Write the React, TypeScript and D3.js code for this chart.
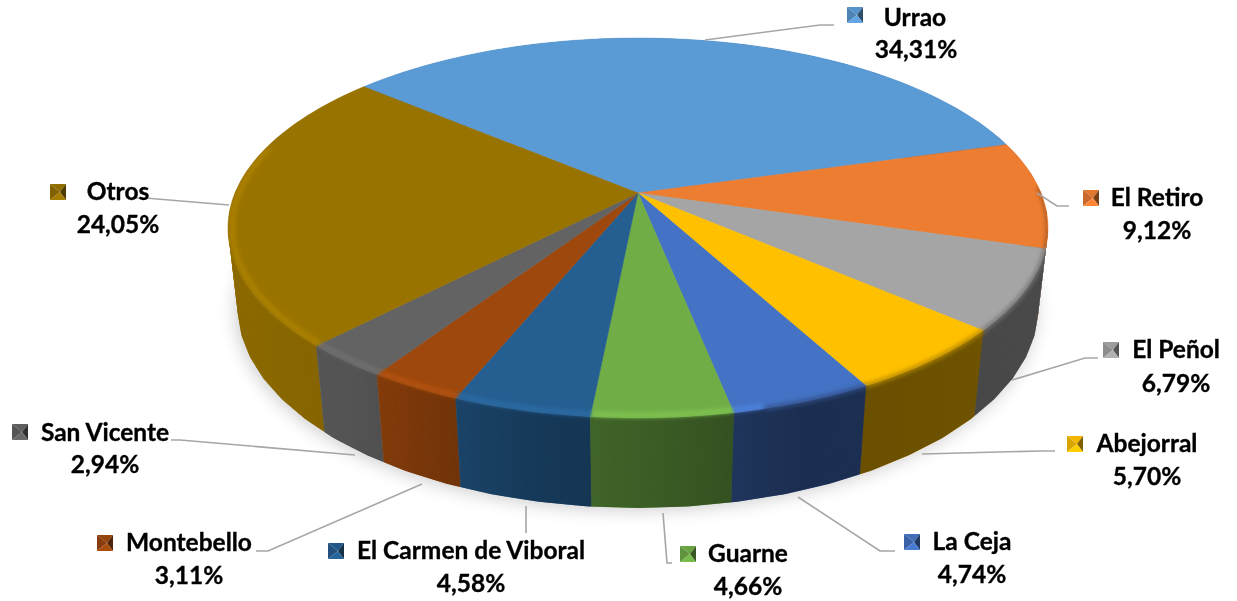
import React from 'react';
import * as d3 from 'd3';

const categories = ['Urrao', 'El Retiro', 'El Peñol', 'Abejorral', 'La Ceja', 'Guarne', 'El Carmen de Viboral', 'Montebello', 'San Vicente', 'Otros'];
const shares = [34.31, 9.12, 6.79, 5.70, 4.74, 4.66, 4.58, 3.11, 2.94, 24.05];
const colors = ['#5b9bd5', '#ed7d31', '#a5a5a5', '#ffc000', '#4472c4', '#70ad47', '#255e91', '#9e480e', '#636363', '#997300'];

// label layout, same order as categories
const keyPos = [[847, 7], [1083, 190], [1103, 342], [1067, 436], [904, 534], [680, 546], [328, 543], [97, 535], [12, 424], [50, 184]];
const nameCenter = [[915, 26], [1157, 206], [1176, 358], [1147, 452], [972, 550], [748, 562], [471, 559], [189, 551], [105, 441], [118, 200]];
const pctCenter = [[916, 58], [1157, 239], [1176, 392], [1147, 485], [972, 583], [748, 595], [471, 592], [189, 584], [105, 473], [118, 233]];
const leaders = [
    [[705, 40], [820, 25], [834, 25]],
    [[1037, 193], [1057, 206], [1069, 206]],
    [[1012, 380], [1085, 358], [1098, 358]],
    [[922, 454], [1040, 451], [1055, 451]],
    [[798, 497], [880, 551], [895, 551]],
    [[663, 513], [667, 563], [672, 563]],
    [[526, 506], [526, 533]],
    [[422, 484], [268, 551], [256, 551]],
    [[355, 455], [180, 440], [171, 440]],
    [[229, 205], [145, 198], [135, 198]],
];
const wallShade = [[0, 0.08], [0.156, 0.14], [0.235, 0.23], [0.37, 0.38], [0.53, 0.47], [0.7, 0.59], [0.85, 0.58], [1, 0.55]];

const width = 1237;
const height = 601;
const fontFamily = 'Lato, Carlito, Calibri, sans-serif';
const deg = Math.PI / 180;

// tilted disc: plane perspective, h = 0 is the top face and h = 1 the bottom one
const cx = 638;
const cy = 193;
const project = (angle: number, r = 1, h = 0): [number, number] => {
    const X = r * Math.sin(angle);
    const Z = r * Math.cos(angle);
    const w = 1 + 0.184 * Z + 0.0234 * h;
    return [cx + 403 * X / w, cy - (183.5 * Z - 81 * h) / w];
};

const sweep = (a0: number, a1: number, r = 1, h = 0) =>
    d3.range(0, 61).map(i => project(a0 + (a1 - a0) * i / 60, r, h));

const line = d3.line();
const arcs = d3.pie<number>().sort(null).startAngle(-49.6 * deg).endAngle(310.4 * deg)(shares);

// the wall is a run of small quads, so that it also fills out to the disc's silhouette
const wallPath = (a0: number, a1: number) => {
    const top = sweep(a0, a1);
    const bottom = sweep(a0, a1, 1, 1);
    return d3.range(60).map(i => {
        const quad = [top[i], top[i + 1], bottom[i + 1], bottom[i]];
        if (d3.polygonArea(quad) < 0) quad.reverse();
        return line(quad) + 'Z';
    }).join('');
};

// a slice that starts just past the right tangent takes over the sliver before it
const wallStart = (a: number) => (a > 100 * deg && a < 112 * deg ? 88 * deg : a);

const lighter = (c: string, k: number) => d3.rgb(c).brighter(k).formatHex();
const darker = (c: string, k: number) => d3.rgb(c).darker(k).formatHex();

const App = () => {
    const backToFront = [...arcs].sort((a, b) =>
        Math.cos((b.startAngle + b.endAngle) / 2) - Math.cos((a.startAngle + a.endAngle) / 2));
    const wholeBottom = sweep(0, 2 * Math.PI, 1, 1);
    const wholeTop = line(sweep(0, 2 * Math.PI))! + 'Z';
    const wholeWall = wallPath(0, 2 * Math.PI);

    return (
        <svg width={width} height={height} style={{ position: 'absolute', left: 0, top: 0, background: '#fff' }}>
            <defs>
                <filter id="soft" x="-10%" y="-10%" width="120%" height="130%"><feGaussianBlur stdDeviation="9" /></filter>
                <filter id="rim" filterUnits="userSpaceOnUse" x="0" y="0" width={width} height={height}><feGaussianBlur stdDeviation="2" /></filter>
                <filter id="key" x="-10%" y="-10%" width="120%" height="120%"><feGaussianBlur stdDeviation="0.6" /></filter>
                <filter id="txt" x="-5%" y="-20%" width="110%" height="140%"><feGaussianBlur stdDeviation="0.3" /></filter>
                <linearGradient id="sideDark" gradientUnits="userSpaceOnUse" x1="227" x2="1046" y1="0" y2="0">
                    {wallShade.map(([o, a]) => <stop key={o} offset={o} stopColor="#000" stopOpacity={a} />)}
                </linearGradient>
                <clipPath id="disc">
                    <path d={wholeTop} />
                    <path d={wholeWall} />
                </clipPath>
                <clipPath id="wallOnly">
                    <path d={wholeWall} />
                </clipPath>
            </defs>

            {/* shadow */}
            <path d={line(wholeBottom)! + 'Z'} fill="#000" opacity="0.2" filter="url(#soft)" transform="translate(-2,2)" />

            {/* side wall, shaded once as a whole */}
            <g clipPath="url(#wallOnly)">
                {backToFront.map(d => {
                    const i = d.index;
                    return <path key={i} d={wallPath(wallStart(d.startAngle), d.endAngle)} fill={colors[i]} stroke={colors[i]} strokeWidth="0.4" />;
                })}
                <rect x="0" y="0" width={width} height={height} fill="url(#sideDark)" />
            </g>

            {/* top face */}
            {arcs.map(d => {
                const i = d.index;
                const face = [[cx, cy] as [number, number], ...sweep(d.startAngle, d.endAngle)];
                return <path key={i} d={line(face)! + 'Z'} fill={colors[i]} stroke={colors[i]} strokeWidth="0.5" />;
            })}

            {/* bevel along the rim: light on the front left, dark towards the right */}
            <g clipPath="url(#disc)">
                {arcs.map(d => {
                    const i = d.index;
                    const a0 = Math.max(d.startAngle, 165 * deg);
                    const a1 = Math.min(d.endAngle, 285 * deg);
                    if (a1 <= a0) return null;
                    return (
                        <path key={i} d={line(sweep(a0, a1, 0.99))!} fill="none"
                            stroke={lighter(colors[i], 0.38)} strokeWidth="4.5" filter="url(#rim)" />
                    );
                })}
                {arcs.map(d => {
                    const i = d.index;
                    const a0 = Math.max(d.startAngle, 88 * deg);
                    const a1 = Math.min(d.endAngle, 165 * deg);
                    if (a1 <= a0) return null;
                    return (
                        <path key={i} d={line(sweep(a0, a1, 1))!} fill="none"
                            stroke={darker(colors[i], 1)} strokeWidth="4" filter="url(#rim)" />
                    );
                })}
            </g>

            {/* leader lines */}
            {leaders.map((pts, i) => (
                <path key={i} d={line(pts as [number, number][])!} fill="none" stroke="#a6a6a6" strokeWidth="1.6" />
            ))}

            {/* legend keys and labels */}
            {categories.map((name, i) => {
                const [kx, ky] = keyPos[i];
                const s = 16;
                const mid: [number, number] = [kx + s * 0.62, ky + s * 0.5];
                const tri = (a: [number, number], b: [number, number]) => line([a, b, mid])! + 'Z';
                const tl: [number, number] = [kx, ky];
                const tr: [number, number] = [kx + s, ky];
                const bl: [number, number] = [kx, ky + s];
                const br: [number, number] = [kx + s, ky + s];
                return (
                    <g key={name}>
                        <g filter="url(#key)">
                            <path d={tri(tl, tr)} fill={darker(colors[i], 0.15)} />
                            <path d={tri(tl, bl)} fill={darker(colors[i], 0.45)} />
                            <path d={tri(tr, br)} fill={darker(colors[i], 1.9)} />
                            <path d={tri(bl, br)} fill={lighter(colors[i], 0.2)} />
                        </g>
                        <g filter="url(#txt)" fontFamily={fontFamily} fontWeight="700" fontSize="24.5" fill="#000" stroke="#000" strokeWidth="0.35" textAnchor="middle">
                            <text x={nameCenter[i][0]} y={nameCenter[i][1]}>{name}</text>
                            <text x={pctCenter[i][0]} y={pctCenter[i][1]}>{d3.format('.2f')(shares[i]).replace('.', ',')}%</text>
                        </g>
                    </g>
                );
            })}
        </svg>
    );
};

export default App;
